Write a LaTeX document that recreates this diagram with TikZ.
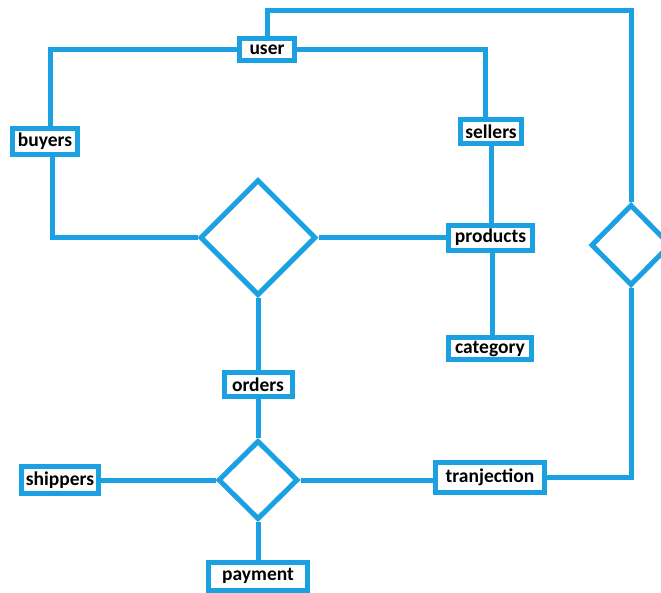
\documentclass[tikz,border=0pt]{standalone}
\usepackage{fontspec}
\setmainfont{Carlito}
\usetikzlibrary{shapes.geometric}
\definecolor{erblue}{RGB}{27,161,226}
\tikzset{
  ent/.style={draw=erblue, line width=5pt, fill=white, inner sep=0pt,
    font=\bfseries\fontsize{19.5}{21}\selectfont, text=black},
  rel/.style={draw=erblue, line width=5pt, fill=white, diamond, inner sep=0pt, aspect=1},
  conn/.style={draw=erblue, line width=5pt}
}
\begin{document}
\begin{tikzpicture}[x=1pt, y=-1pt]
\useasboundingbox (0,0) rectangle (661,592);
\node[rel, minimum width=116pt, minimum height=116pt] (bd) at (258,237.5) {};
\node[rel, minimum width=80pt, minimum height=79pt] (sd) at (258,480) {};
\node[rel, minimum width=80pt, minimum height=81pt] (rd) at (631,245) {};
\node[ent, minimum width=55pt, minimum height=22pt] (user) at (267,49.5) {user};
\node[ent, minimum width=65pt, minimum height=26pt] (buyers) at (45,141.5) {buyers};
\node[ent, minimum width=61pt, minimum height=24pt] (sellers) at (491,131.5) {sellers};
\node[ent, minimum width=84pt, minimum height=25pt] (products) at (490.5,237.5) {products};
\node[ent, minimum width=83pt, minimum height=22pt] (category) at (490,348.5) {category};
\node[ent, minimum width=68pt, minimum height=24pt] (orders) at (258,384.5) {orders};
\node[ent, minimum width=77pt, minimum height=27pt] (shippers) at (60,480) {shippers};
\node[ent, minimum width=99pt, minimum height=28pt] (payment) at (258,576) {payment};
\node[ent, minimum width=109pt, minimum height=30pt] (tranjection) at (490,477.5) {tranjection};
\coordinate (topc) at (631,10);
\draw[conn] (user.north) |- (topc) -- (rd.north);
\draw[conn] (user.west) -| ([xshift=5pt]buyers.north);
\draw[conn] (user.east) -| ([xshift=-6pt]sellers.north);
\draw[conn] ([xshift=7pt]buyers.south) |- (bd.west);
\draw[conn] (bd.east) -- (products.west);
\draw[conn] (sellers.south) -- (sellers.south |- products.north);
\draw[conn] ([xshift=2pt]products.south) -- ([xshift=2pt]products.south |- category.north);
\draw[conn] (bd.south) -- (orders.north);
\draw[conn] (orders.south) -- (sd.north);
\draw[conn] (sd.west) -- (shippers.east);
\draw[conn] (sd.south) -- (payment.north);
\draw[conn] (sd.east) -- (sd.east -| tranjection.west);
\draw[conn] (tranjection.east) -| (rd.south);
\end{tikzpicture}
\end{document}
